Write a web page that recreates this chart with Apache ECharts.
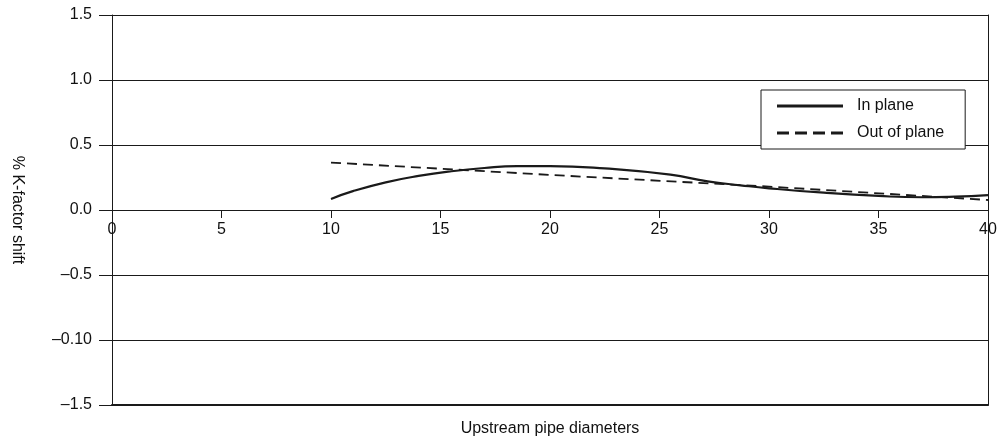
<!DOCTYPE html>
<html>
<head>
<meta charset="utf-8">
<script src="https://cdn.jsdelivr.net/npm/echarts@6/dist/echarts.min.js"></script>
<style>html,body{margin:0;padding:0;background:#fff;}#c{width:1005px;height:444px;}</style>
</head>
<body>
<div id="c"></div>
<script>
// Data
const xTicks = [0, 5, 10, 15, 20, 25, 30, 35, 40];
const yTickValues = [-1.5, -1.0, -0.5, 0, 0.5, 1.0, 1.5];
const yTickLabels = ['\u20131.5', '\u20130.10', '\u20130.5', '0.0', '0.5', '1.0', '1.5'];
const inPlaneX = [10, 11, 12.5, 14, 15.5, 17, 18.5, 20, 22.5, 25.5, 27.2, 28.7, 30, 32.5, 35, 37, 38.5, 40];
const inPlaneY = [0.085, 0.145, 0.213, 0.262, 0.298, 0.323, 0.337, 0.338, 0.32, 0.272, 0.22, 0.19, 0.167, 0.133, 0.108, 0.098, 0.103, 0.115];
const outPlaneX = [10, 20, 30, 40];
const outPlaneY = [0.365, 0.27, 0.18, 0.077];
const seriesNames = ['In plane', 'Out of plane'];
const xTitle = 'Upstream pipe diameters';
const yTitle = '% K-factor shift';

const ink = '#1a1a1a';
const font = 'Liberation Sans, Arial, sans-serif';
const gridTop = 15, gridBottom = 39, H = 444;
const chart = echarts.init(document.getElementById('c'), null, {renderer: 'canvas'});
const pair = (xs, ys) => xs.map((x, i) => [x, ys[i]]);
// the zero line sits in the middle of the symmetric y range
const zeroOffset = -(H - gridTop - gridBottom) / 2;

chart.setOption({
  animation: false,
  backgroundColor: '#fff',
  grid: {left: 112, right: 17, top: gridTop, bottom: gridBottom, containLabel: false, outerBoundsMode: 'none'},
  legend: {
    orient: 'vertical', left: 761, top: 90,
    backgroundColor: '#fff', borderColor: ink, borderWidth: 1,
    padding: [8, 21, 8, 16], itemGap: 11, itemWidth: 66, itemHeight: 14,
    textStyle: {fontFamily: font, fontSize: 16, color: '#111', padding: [0, 0, 0, 9]},
    data: [
      {name: seriesNames[0], icon: 'path://M0,0 L66,0 L66,3 L0,3 Z'},
      {name: seriesNames[1], icon: 'path://M0,0 L12,0 L12,3 L0,3 Z M18,0 L30,0 L30,3 L18,3 Z M36,0 L48,0 L48,3 L36,3 Z M54,0 L66,0 L66,3 L54,3 Z'}
    ],
    itemStyle: {color: ink, borderWidth: 0}
  },
  xAxis: [{
    type: 'value', min: 0, max: 40, interval: 5, position: 'bottom', offset: zeroOffset,
    axisLine: {onZero: false, lineStyle: {color: ink, width: 1}},
    axisTick: {show: true, length: 8, lineStyle: {color: ink}},
    axisLabel: {fontFamily: font, fontSize: 16, color: '#111', margin: 12,
      formatter: v => xTicks.includes(v) ? String(v) : ''},
    splitLine: {show: false}
  }, {
    type: 'value', min: 0, max: 40, position: 'bottom',
    axisLine: {onZero: false, lineStyle: {color: ink, width: 2}},
    axisTick: {show: false}, axisLabel: {show: false}, splitLine: {show: false},
    name: xTitle, nameLocation: 'middle', nameGap: 16,
    nameTextStyle: {fontFamily: font, fontSize: 16, color: '#111'}
  }],
  yAxis: [{
    type: 'value', min: -1.5, max: 1.5, interval: 0.5,
    axisLine: {show: true, onZero: false, lineStyle: {color: ink, width: 1}},
    axisTick: {show: true, length: 13, lineStyle: {color: ink}},
    axisLabel: {fontFamily: font, fontSize: 16, color: '#111', margin: 20,
      formatter: v => {
        const i = yTickValues.findIndex(t => Math.abs(t - v) < 1e-9);
        return i >= 0 ? yTickLabels[i] : '';
      }},
    splitLine: {show: true, lineStyle: {color: ink, width: 1}},
    name: yTitle, nameLocation: 'middle', nameGap: 87, nameRotate: -90,
    nameTextStyle: {fontFamily: font, fontSize: 16, color: '#111'}
  }, {
    type: 'value', min: -1.5, max: 1.5, position: 'right',
    axisLine: {show: true, onZero: false, lineStyle: {color: ink, width: 1}},
    axisTick: {show: false}, axisLabel: {show: false}, splitLine: {show: false}
  }],
  series: [{
    name: seriesNames[0], type: 'line', smooth: 0.5, symbol: 'none', showSymbol: false,
    data: pair(inPlaneX, inPlaneY), z: 5,
    lineStyle: {color: ink, width: 2.2}, itemStyle: {color: ink}
  }, {
    name: seriesNames[1], type: 'line', symbol: 'none', showSymbol: false,
    data: pair(outPlaneX, outPlaneY), z: 5,
    lineStyle: {color: ink, width: 1.8, type: [10, 6]}, itemStyle: {color: ink}
  }]
});
</script>
</body>
</html>
